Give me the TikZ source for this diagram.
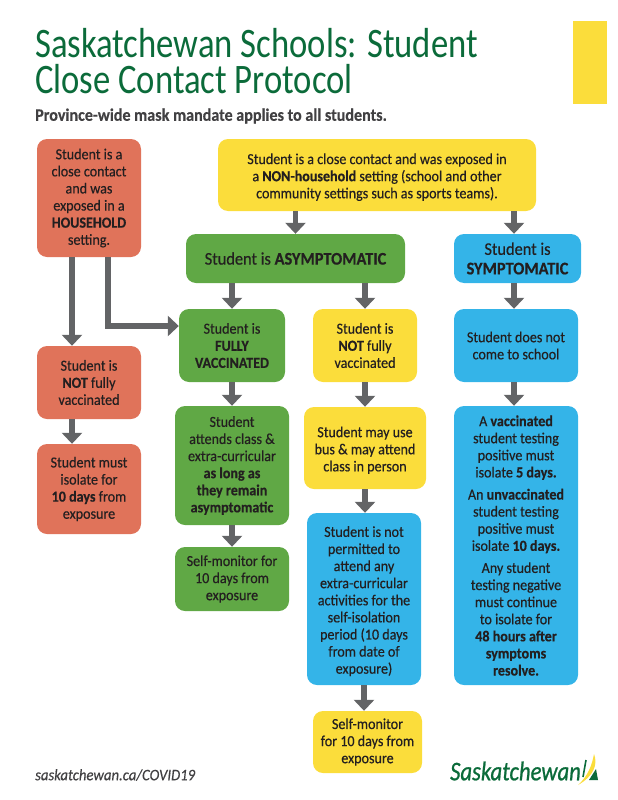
\documentclass[tikz,border=0pt]{standalone}
\usepackage{fontspec}
\setmainfont{Carlito}[FakeStretch=0.92,FakeBold=0.4]
\newfontfamily\headingfont{Carlito}[FakeStretch=0.825]
\newfontfamily\logofont{Carlito}[FakeStretch=0.84,FakeBold=0.8]
\usetikzlibrary{arrows.meta,positioning}
\definecolor{titlegreen}{HTML}{0B6B3A}
\definecolor{inkdark}{HTML}{231F20}
\definecolor{subgrey}{HTML}{414042}
\definecolor{linegrey}{HTML}{636466}
\definecolor{redbox}{HTML}{E0735A}
\definecolor{yellowbox}{HTML}{FBDD3B}
\definecolor{greenbox}{HTML}{60A845}
\definecolor{bluebox}{HTML}{34B4E8}
\newcommand{\lowtext}{\rule{0pt}{15pt}}
\tikzset{
  flowbox/.style={rounded corners=10pt, align=center, text=inkdark, inner sep=0pt,
    font=\fontsize{15.3}{17.1}\selectfont},
  headbox/.style={font=\fontsize{17.8}{19.5}\selectfont},
  redflow/.style={flowbox, fill=redbox, minimum width=104pt},
  yellowflow/.style={flowbox, fill=yellowbox},
  greenflow/.style={flowbox, fill=greenbox},
  blueflow/.style={flowbox, fill=bluebox},
  arrowline/.style={draw=linegrey, line width=5.2pt, -{Triangle[width=20pt,length=11pt]}}
}
\begin{document}
\begin{tikzpicture}[x=1pt,y=-1pt]
  \useasboundingbox (0,0) rectangle (618,800);

  % heading
  \node[anchor=west, align=left, inner sep=0pt, text=titlegreen, font=\fontsize{42}{36}\headingfont] (title) at (35,61) {Saskatchewan Schools: Student\\Close Contact Protocol};
  \node[anchor=west, inner sep=0pt, text=subgrey, font=\fontsize{17.5}{18}\selectfont\bfseries] (mandate) at (35,116) {Province-wide mask mandate applies to all students.};
  \fill[yellowbox] (573,21) rectangle (607,104);

  % top row
  \node[redflow, minimum height=118pt] (redtop) at (89,198) {Student is a\\close contact\\and was\\exposed in a\\\textbf{HOUSEHOLD}\\setting.};
  \node[yellowflow, minimum width=318pt, minimum height=72pt] (yellowtop) at (377,175) {\lowtext Student is a close contact and was exposed in\\a \textbf{NON-household} setting (school and other\\community settings such as sports teams).};
  \node[greenflow, headbox, minimum width=219pt, minimum height=49pt] (greenhead) at (295.5,258.5) {Student is \textbf{ASYMPTOMATIC}};
  \node[blueflow, headbox, minimum width=127pt, minimum height=49pt] (bluehead) at (517.5,258.5) {Student is\\\textbf{SYMPTOMATIC}};

  % second row
  \node[greenflow, minimum width=106pt, minimum height=73pt] (greenfull) at (232,345.5) {Student is\\\textbf{FULLY}\\\textbf{VACCINATED}};
  \node[yellowflow, minimum width=104pt, minimum height=73pt] (yellownot) at (365,345.5) {Student is\\\textbf{NOT} fully\\vaccinated};
  \node[blueflow, minimum width=124pt, minimum height=73pt] (bluehome) at (516,345.5) {Student does not\\come to school};
  \node[redflow, minimum height=73pt] (rednot) at (89,382.5) {Student is\\\textbf{NOT} fully\\vaccinated};

  % third row
  \node[redflow, minimum height=90pt] (redisolate) at (89,489) {Student must\\isolate for\\\textbf{10 days} from\\exposure};
  \node[greenflow, minimum width=114pt, minimum height=119pt] (greenclass) at (232,465.5) {Student\\attends class \&\\extra-curricular\\\textbf{as long as}\\\textbf{they remain}\\\textbf{asymptomatic}};
  \node[yellowflow, minimum width=122pt, minimum height=82pt] (yellowbus) at (365,448) {\lowtext Student may use\\bus \& may attend\\class in person};
  \node[blueflow, minimum width=124pt, minimum height=279pt] (blueresult) at (516,545.5) {A \textbf{vaccinated}\\student testing\\positive must\\isolate \textbf{5 days.}\\[5pt]An \textbf{unvaccinated}\\student testing\\positive must\\isolate \textbf{10 days.}\\[5pt]Any student\\testing negative\\must continue\\to isolate for\\\textbf{48 hours after}\\\textbf{symptoms}\\\textbf{resolve.}};

  % lower boxes
  \node[greenflow, minimum width=114pt, minimum height=64pt] (greenself) at (232,579) {Self-monitor for\\10 days from\\exposure};
  \node[blueflow, minimum width=114pt, minimum height=172pt] (blueextra) at (364,599) {\lowtext Student is not\\permitted to\\attend any\\extra-curricular\\activities for the\\self-isolation\\period (10 days\\from date of\\exposure)};
  \node[yellowflow, minimum width=109pt, minimum height=62pt] (yellowself) at (367.5,742) {Self-monitor\\for 10 days from\\exposure};

  % connectors
  \coordinate (redleft) at (72,300);
  \coordinate (redbend) at (108,326);
  \coordinate (blueline) at (514,300);
  \draw[arrowline] (redleft |- redtop.south) -- (redleft |- rednot.north);
  \draw[arrowline] (redbend |- redtop.south) -- (redbend) -- (greenfull.west |- redbend);
  \draw[arrowline] (redleft |- rednot.south) -- (redleft |- redisolate.north);
  \draw[arrowline] (yellowtop.south -| greenhead.north) -- (greenhead.north);
  \draw[arrowline] (blueline |- yellowtop.south) -- (blueline |- bluehead.north);
  \draw[arrowline] (greenhead.south -| greenfull.north) -- (greenfull.north);
  \draw[arrowline] (greenhead.south -| yellownot.north) -- (yellownot.north);
  \draw[arrowline] (blueline |- bluehead.south) -- (blueline |- bluehome.north);
  \draw[arrowline] (greenfull.south) -- (greenclass.north);
  \draw[arrowline] (greenclass.south) -- (greenself.north);
  \draw[arrowline] (yellownot.south) -- (yellowbus.north);
  \draw[arrowline] (yellowbus.south) -- (blueextra.north -| yellowbus.south);
  \draw[arrowline] (blueline |- bluehome.south) -- (blueline |- blueresult.north);
  \draw[arrowline] (blueextra.south) -- (yellowself.north -| blueextra.south);

  % footer
  \node[anchor=west, inner sep=0pt, text=subgrey, font=\fontsize{16}{18}\selectfont\itshape] (website) at (35,775) {saskatchewan.ca/COVID19};
  \node[anchor=west, inner sep=0pt, text=titlegreen, font=\fontsize{27}{28}\logofont\itshape] (logotext) at (450,771) {Saskatchewan};
  \fill[yellowbox] (578,785) .. controls (588,776) and (592,765) .. (594,754) .. controls (598,764) and (594,776) .. (578,785);
  \draw[titlegreen, line width=1.6pt] (586,760) -- (583,777);
  \fill[titlegreen] (589,780) -- (596,769) -- (598,780) -- cycle;
\end{tikzpicture}
\end{document}
